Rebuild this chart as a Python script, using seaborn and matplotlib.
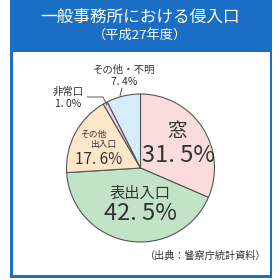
import matplotlib
matplotlib.use("Agg")
import matplotlib.pyplot as plt
from matplotlib.patches import Rectangle
from matplotlib import font_manager
import seaborn as sns

sns.set_theme(style="white")
plt.rcParams['font.family'] = ['Noto Sans CJK JP', 'DejaVu Sans']

labels = ["窓", "表出入口", "その他出入口", "非常口", "その他・不明"]
values = [31.5, 42.5, 17.6, 1.0, 7.4]
value_text = ["31. 5%", "42. 5%", "17. 6%", "1. 0%", "7. 4%"]
colors = ["#FADCDD", "#C3E3C6", "#FEE7C8", "#E6D2EA", "#D5EDF9"]
title = "一般事務所における侵入口"
subtitle = "（平成27年度）"
source = "（出典：警察庁統計資料）"

names = {f.name for f in font_manager.fontManager.ttflist}
numfam = ['Liberation Sans Narrow', 'Noto Sans CJK JP'] if 'Liberation Sans Narrow' in names else ['Noto Sans CJK JP']
narrow = 'Liberation Sans Narrow' in names

W = H = 280
fig = plt.figure(figsize=(2.8, 2.8), dpi=100)
fig.patch.set_facecolor("white")
blue = "#1A6FC4"

def fx(px): return px / W
def fy(py): return 1 - py / H

# frame
fig.patches.append(Rectangle((fx(10), fy(278)), fx(262), 278 / H, transform=fig.transFigure,
                             facecolor=blue, edgecolor="none", zorder=-2))
fig.patches.append(Rectangle((fx(12.5), fy(275)), fx(257.5), (275 - 51.5) / H, transform=fig.transFigure,
                             facecolor="white", edgecolor="none", zorder=-1))

fig.text(fx(140), fy(17), title, color="white", fontsize=12, ha="center", va="center")
fig.text(fx(140), fy(35), subtitle, color="white", fontsize=9.5, ha="center", va="center")
fig.text(fx(266), fy(256), source, color="#333333", fontsize=7.3, ha="right", va="center")

cx, cy, r = 140.5, 168, 74
ax = fig.add_axes([fx(cx - r), fy(cy + r), 2 * r / W, 2 * r / H])
ax.set_zorder(2)
ax.patch.set_alpha(0)
ax.pie(values, colors=colors, startangle=90, counterclock=False,
       wedgeprops=dict(edgecolor="#555555", linewidth=0.8), radius=1)
ax.set_xlim(-1, 1); ax.set_ylim(-1, 1)
ax.set_aspect("equal")
ax.axis("off")

tc = "#333333"
kw = dict(color=tc, ha="center", va="center", zorder=5)
big = 19 if narrow else 17
mid = 13 if narrow else 11
small = 9 if narrow else 7.5
fig.text(fx(177), fy(132), labels[0], fontsize=14, **kw)
fig.text(fx(178), fy(155), value_text[0], fontsize=big, family=numfam, **kw)
fig.text(fx(140), fy(193), labels[1], fontsize=11, **kw)
fig.text(fx(140), fy(214), value_text[1], fontsize=big, family=numfam, **kw)
fig.text(fx(93), fy(134), "その他", fontsize=6.3, **kw)
fig.text(fx(103), fy(145), "出入口", fontsize=6.3, **kw)
fig.text(fx(99), fy(159), value_text[2], fontsize=mid, family=numfam, **kw)
fig.text(fx(68), fy(92), labels[3], fontsize=7.5, **kw)
fig.text(fx(68), fy(104), value_text[3], fontsize=small, family=numfam, **kw)
fig.text(fx(124), fy(70), labels[4], fontsize=7.5, **kw)
fig.text(fx(124), fy(82), value_text[4], fontsize=small, family=numfam, **kw)

fig.lines.append(plt.Line2D([fx(87), fx(103), fx(107)], [fy(97), fy(97), fy(105)],
                            transform=fig.transFigure, color="#555555", lw=0.7, zorder=5))
fig.lines.append(plt.Line2D([fx(122), fx(120)], [fy(88), fy(96)],
                            transform=fig.transFigure, color="#555555", lw=0.7, zorder=5))

fig.savefig("out.png", dpi=100)
